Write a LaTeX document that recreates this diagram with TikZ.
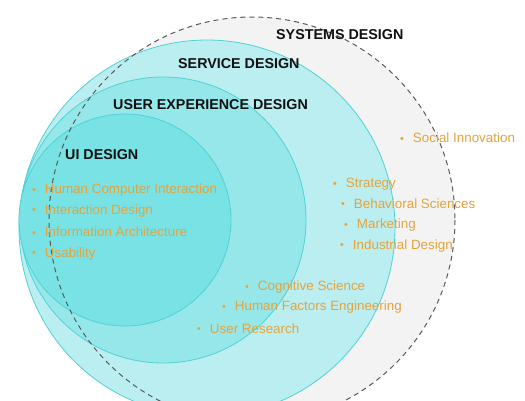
\documentclass[tikz,border=0pt]{standalone}
\usepackage{fontspec}
\setmainfont{Liberation Sans}
\definecolor{sysfill}{HTML}{F3F3F3}
\definecolor{sysline}{HTML}{5A5A5A}
\definecolor{svcfill}{HTML}{BBEEF0}
\definecolor{uxfill}{HTML}{96E7E9}
\definecolor{uifill}{HTML}{78E2E4}
\definecolor{ring}{HTML}{50D2D6}
\definecolor{item}{HTML}{E6A33A}
\definecolor{heading}{HTML}{111111}
\tikzset{
  ringcircle/.style={draw=ring, line width=0.8pt},
  headlabel/.style={inner sep=0pt, anchor=base west, text=heading, font=\fontsize{14.3}{16}\selectfont\bfseries},
  itemlabel/.style={inner sep=0pt, anchor=base west, text=item, font=\fontsize{13.4}{15}\selectfont},
}
\newcommand{\itm}[1]{\raisebox{0.5pt}{\scalebox{0.8}{•}}\hspace{9pt}#1}
\begin{document}
\begin{tikzpicture}[x=1pt,y=-1pt]
\useasboundingbox (0,0) rectangle (525,400);
\clip (0,0) rectangle (525,400);
\fill[white] (0,0) rectangle (525,400);
% systems design background
\fill[sysfill] (252,220) circle[radius=203];
% service / ux / ui circles
\filldraw[ringcircle, fill=svcfill] (207,228) circle[radius=188];
\filldraw[ringcircle, fill=uxfill] (163,220) circle[radius=143];
\filldraw[ringcircle, fill=uifill] (125,220) circle[radius=106];
% dashed systems outline on top
\draw[sysline, dash pattern=on 5pt off 4pt, line width=1pt] (252,220) circle[radius=203];
% headings
\node[headlabel] (sys) at (276,39.8) {SYSTEMS DESIGN};
\node[headlabel] (svc) at (178,68.8) {SERVICE DESIGN};
\node[headlabel] (ux) at (113,109.8) {USER EXPERIENCE DESIGN};
\node[headlabel] (ui) at (65,159.3) {UI DESIGN};
% UI items
\node[itemlabel] (hci) at (32,193.8) {\itm{Human Computer Interaction}};
\node[itemlabel] (ixd) at (32,214.3) {\itm{Interaction Design}};
\node[itemlabel] (ia) at (32,236.8) {\itm{Information Architecture}};
\node[itemlabel] (usa) at (32,257.3) {\itm{Usability}};
% systems item
\node[itemlabel] (soc) at (400,142.8) {\itm{Social Innovation}};
% service items
\node[itemlabel] (str) at (333,187.8) {\itm{Strategy}};
\node[itemlabel] (beh) at (341,208.3) {\itm{Behavioral Sciences}};
\node[itemlabel] (mkt) at (344,228.8) {\itm{Marketing}};
\node[itemlabel] (ind) at (340,249.3) {\itm{Industrial Design}};
% ux items
\node[itemlabel] (cog) at (245,290.8) {\itm{Cognitive Science}};
\node[itemlabel] (hfe) at (222,310.8) {\itm{Human Factors Engineering}};
\node[itemlabel] (ur) at (197,333.3) {\itm{User Research}};
\end{tikzpicture}
\end{document}
